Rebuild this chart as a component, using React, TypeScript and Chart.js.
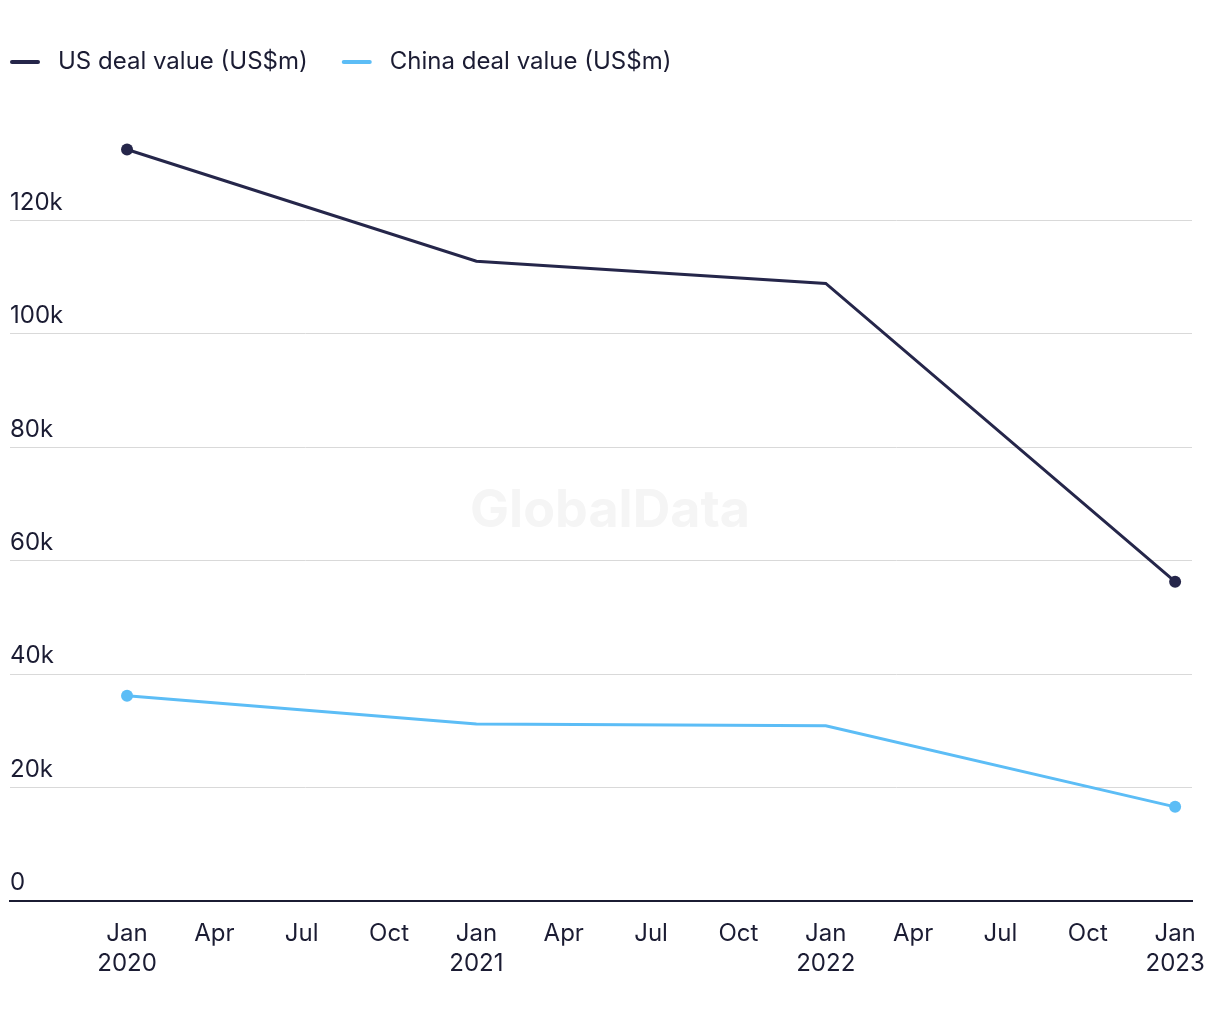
import React, { useEffect, useRef } from "react";
import { Chart, registerables } from "chart.js";

Chart.register(...registerables);

const dealMonths = [0, 12, 24, 36];
const usDealValues = [132500, 112800, 108900, 56300];
const chinaDealValues = [36200, 31200, 30900, 16600];
const seriesNames = ["US deal value (US$m)", "China deal value (US$m)"];
const seriesColors = ["#25264a", "#5cbdf6"];
const xTickMonths = [0, 3, 6, 9, 12, 15, 18, 21, 24, 27, 30, 33, 36];
const xTickLabels = [
  ["Jan", "2020"], ["Apr"], ["Jul"], ["Oct"],
  ["Jan", "2021"], ["Apr"], ["Jul"], ["Oct"],
  ["Jan", "2022"], ["Apr"], ["Jul"], ["Oct"],
  ["Jan", "2023"],
];
const yTickValues = [0, 20000, 40000, 60000, 80000, 100000, 120000];

const FONT = "Inter, Roboto, sans-serif";
const TEXT = "#1b1c33";

const legendPlugin = {
  id: "customLegend",
  afterDraw(chart: any) {
    const ctx = chart.ctx;
    ctx.save();
    ctx.font = `24px ${FONT}`;
    ctx.textBaseline = "middle";
    ctx.textAlign = "left";
    let x = 10;
    const y = 62;
    chart.data.datasets.forEach((ds: any) => {
      ctx.strokeStyle = ds.borderColor;
      ctx.lineWidth = 4;
      ctx.lineCap = "round";
      ctx.beginPath();
      ctx.moveTo(x + 2, y);
      ctx.lineTo(x + 28, y);
      ctx.stroke();
      ctx.fillStyle = TEXT;
      ctx.fillText(ds.label, x + 48, y);
      x += 48 + ctx.measureText(ds.label).width + 34;
    });
    ctx.restore();
  },
};

const watermarkPlugin = {
  id: "watermark",
  beforeDatasetsDraw(chart: any) {
    const ctx = chart.ctx;
    ctx.save();
    ctx.font = `bold 52px ${FONT}`;
    ctx.fillStyle = "#f5f5f5";
    ctx.textAlign = "center";
    ctx.textBaseline = "middle";
    ctx.fillText("GlobalData", 610, 511);
    ctx.restore();
  },
};

export default function App() {
  const ref = useRef<HTMLCanvasElement | null>(null);
  useEffect(() => {
    if (!ref.current) return;
    const chart = new Chart(ref.current, {
      type: "line",
      data: {
        datasets: [
          {
            label: seriesNames[0],
            data: dealMonths.map((m, i) => ({ x: m, y: usDealValues[i] })),
            borderColor: seriesColors[0],
            backgroundColor: seriesColors[0],
            borderWidth: 3,
            pointRadius: [6, 0, 0, 6],
            pointHoverRadius: 6,
            pointBorderWidth: 0,
            tension: 0,
          },
          {
            label: seriesNames[1],
            data: dealMonths.map((m, i) => ({ x: m, y: chinaDealValues[i] })),
            borderColor: seriesColors[1],
            backgroundColor: seriesColors[1],
            borderWidth: 3,
            pointRadius: [6, 0, 0, 6],
            pointHoverRadius: 6,
            pointBorderWidth: 0,
            tension: 0,
          },
        ],
      },
      options: {
        animation: false,
        responsive: false,
        maintainAspectRatio: false,
        layout: { padding: { left: 10, right: 28, top: 107, bottom: 11 } },
        plugins: {
          legend: { display: false },
          tooltip: { enabled: false },
        },
        scales: {
          x: {
            type: "linear",
            min: -4.02,
            max: 36.58,
            afterBuildTicks: (scale: any) => {
              scale.ticks = xTickMonths.map((v) => ({ value: v }));
            },
            grid: { display: false },
            border: { display: true, color: TEXT, width: 2 },
            ticks: {
              autoSkip: false,
              maxRotation: 0,
              padding: 10,
              color: TEXT,
              font: { family: FONT, size: 24, lineHeight: 1.25 },
              callback: (v: any) => {
                const i = xTickMonths.indexOf(Number(v));
                return i >= 0 ? xTickLabels[i] : "";
              },
            },
          },
          y: {
            type: "linear",
            min: 0,
            max: 140000,
            afterBuildTicks: (scale: any) => {
              scale.ticks = yTickValues.map((v) => ({ value: v }));
            },
            grid: { display: true, color: "#d9d9d9", lineWidth: 1, drawTicks: false },
            border: { display: false },
            ticks: {
              mirror: true,
              padding: 0,
              labelOffset: -18,
              color: TEXT,
              font: { family: FONT, size: 24 },
              callback: (v: any) => (Number(v) === 0 ? "0" : `${Number(v) / 1000}k`),
            },
          },
        },
      },
      plugins: [watermarkPlugin, legendPlugin],
    });
    return () => chart.destroy();
  }, []);
  return (
    <div style={{ position: "absolute", left: 0, top: 0, width: 1220, height: 1000 }}>
      <canvas ref={ref} width={1220} height={1000} style={{ width: 1220, height: 1000 }} />
    </div>
  );
}
